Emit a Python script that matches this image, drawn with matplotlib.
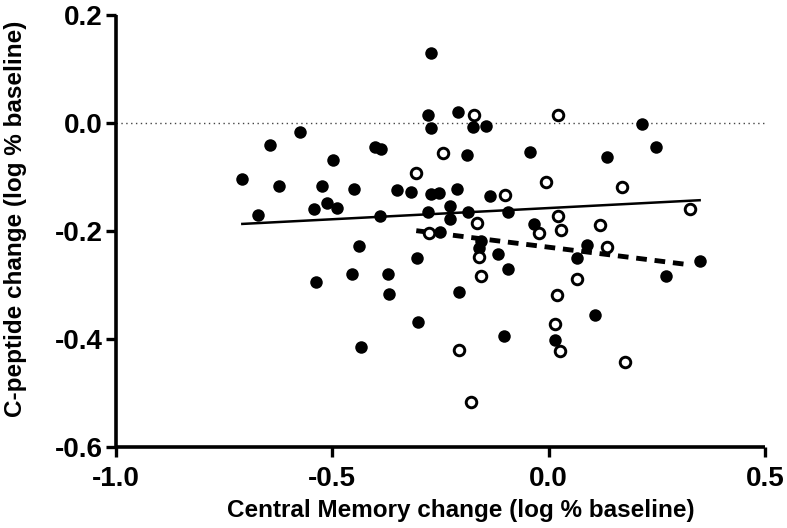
import numpy as np
import matplotlib.pyplot as plt

# filled circles (x = Central Memory change, y = C-peptide change)
filled_x = [-0.272, -0.279, -0.209, -0.271, -0.175, -0.145, -0.574, -0.645, -0.402, -0.388,
            -0.188, -0.499, -0.708, -0.623, -0.523, -0.451, -0.350, -0.318, -0.273, -0.253,
            -0.211, -0.136, -0.513, -0.543, -0.489, -0.672, -0.389, -0.279, -0.228, -0.187,
            -0.094, -0.228, -0.250, -0.439, -0.157, -0.161, -0.118, -0.305, -0.094, -0.537,
            -0.455, -0.371, -0.370, -0.207, -0.303, -0.103, -0.433,
            0.216, -0.042, 0.248, 0.135, -0.033, 0.088, 0.066, 0.349, 0.272, 0.108, 0.015]
filled_y = [0.130, 0.014, 0.020, -0.010, -0.008, -0.005, -0.017, -0.041, -0.045, -0.049,
            -0.060, -0.069, -0.104, -0.116, -0.117, -0.123, -0.125, -0.127, -0.132, -0.130,
            -0.123, -0.135, -0.148, -0.160, -0.157, -0.170, -0.173, -0.164, -0.154, -0.165,
            -0.164, -0.177, -0.202, -0.228, -0.219, -0.232, -0.243, -0.250, -0.270, -0.295,
            -0.280, -0.280, -0.316, -0.313, -0.369, -0.394, -0.415,
            -0.002, -0.053, -0.044, -0.063, -0.187, -0.226, -0.250, -0.256, -0.283, -0.356, -0.401]

# open circles
open_x = [-0.173, -0.244, -0.306, -0.102, -0.165, -0.276, -0.160, -0.157, -0.207, -0.179,
          0.022, -0.006, 0.169, 0.326, -0.022, 0.022, 0.029, 0.118, 0.134, 0.065,
          0.019, 0.014, 0.026, 0.177]
open_y = [0.014, -0.055, -0.093, -0.134, -0.185, -0.203, -0.248, -0.283, -0.420, -0.517,
          0.015, -0.109, -0.119, -0.160, -0.204, -0.172, -0.198, -0.188, -0.229, -0.289,
          -0.319, -0.372, -0.423, -0.443]

# regression lines (slope, intercept)
filled_fit = (0.0415, -0.1575)
open_fit = (-0.100, -0.230)

xticks = [-1.0, -0.5, 0.0, 0.5]
yticks = [0.2, 0.0, -0.2, -0.4, -0.6]

plt.rcParams['font.family'] = ['Liberation Sans', 'DejaVu Sans']
plt.rcParams['font.weight'] = 'bold'

fig = plt.figure(figsize=(7.87, 5.28), dpi=100)
ax = fig.add_axes([0.1474, 0.1534, 0.8246, 0.8182])

ax.axhline(0, color='#444444', lw=1, ls=(0, (1, 2.5)), zorder=1)

xs = np.array([min(filled_x), max(filled_x)])
ax.plot(xs, filled_fit[0] * xs + filled_fit[1], color='black', lw=1.8, zorder=2)
xo = np.array([min(open_x), max(open_x)])
ax.plot(xo, open_fit[0] * xo + open_fit[1], color='black', lw=3.5,
        ls=(0, (2.2, 1.6)), zorder=2)

ax.plot(filled_x, filled_y, 'o', color='black', ms=9, mew=0, zorder=3)
ax.plot(open_x, open_y, 'o', mfc='white', mec='black', ms=7.6, mew=2.1, zorder=3)

ax.set_xlim(-1.0, 0.5)
ax.set_ylim(-0.6, 0.2)
ax.set_xticks(xticks)
ax.set_yticks(yticks)
ax.set_xticklabels([f"{v:.1f}" for v in xticks])
ax.set_yticklabels([f"{v:.1f}" for v in yticks])

for side in ['top', 'right']:
    ax.spines[side].set_visible(False)
for side in ['left', 'bottom']:
    ax.spines[side].set_linewidth(2.6)
    ax.spines[side].set_capstyle('butt')

ax.tick_params(direction='out', length=7.5, width=2.4, labelsize=20, pad=2)
ax.tick_params(axis='x', pad=6)

ax.set_xlabel("Central Memory change (log % baseline)", fontsize=17.5,
              fontweight='bold', labelpad=5)
ax.set_ylabel("C-peptide change (log % baseline)", fontsize=17.5,
              fontweight='bold', labelpad=20)
ax.xaxis.label.set_x(0.532)
ax.yaxis.label.set_y(0.528)

fig.savefig("out.png", dpi=100)
